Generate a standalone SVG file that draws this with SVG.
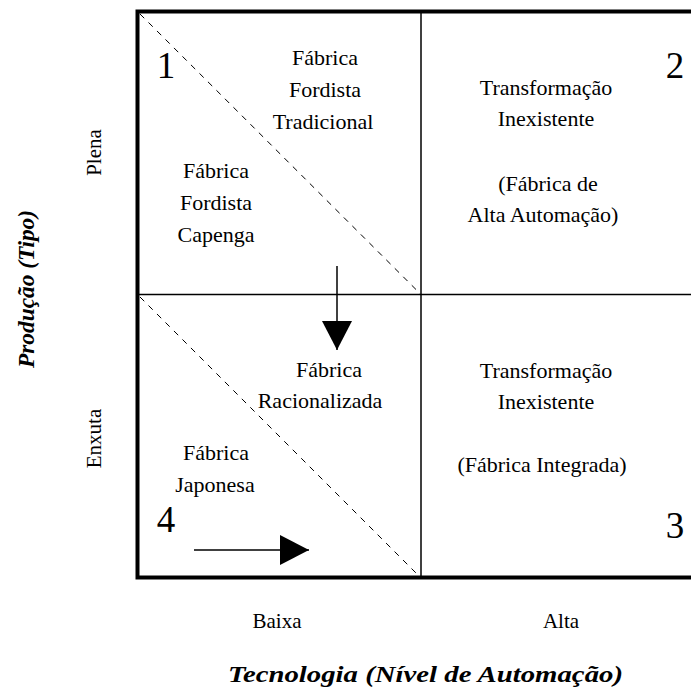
<svg xmlns="http://www.w3.org/2000/svg" width="691" height="691" viewBox="0 0 691 691" font-family="'Liberation Serif', 'Times New Roman', 'DejaVu Serif', serif">
<style>
.t,.n,.ax,.ti{font-family:'Liberation Serif','Times New Roman','DejaVu Serif',serif;fill:#000}
.t{font-size:22px;text-anchor:middle}
.n{font-size:37px;text-anchor:middle}
.ax{font-size:21px;text-anchor:middle}
.ti{font-size:24px;font-weight:bold;font-style:italic;text-anchor:middle}
.grid{stroke:#000;stroke-width:1.5;fill:none}
.dash{stroke:#000;stroke-width:1;stroke-dasharray:6,6;fill:none}
.arr{stroke:#000;stroke-width:1.5;fill:none;marker-end:url(#ah)}
</style>
<defs>
<marker id="ah" markerUnits="userSpaceOnUse" markerWidth="30" markerHeight="30" viewBox="0 0 29 30" refX="29" refY="15" orient="auto">
<path d="M0,0 L29,15 L0,30 Z" fill="#000"/>
</marker>
</defs>
<rect width="691" height="691" fill="#fff"/>
<g id="frame">
<rect x="137.5" y="11.5" width="570" height="566" fill="none" stroke="#000" stroke-width="4"/>
<line class="grid" x1="421" y1="11" x2="421" y2="578"/>
<line class="grid" x1="137" y1="294.5" x2="691" y2="294.5"/>
<line class="dash" x1="140" y1="14" x2="421" y2="294.5"/>
<line class="dash" x1="140" y1="297" x2="421" y2="578"/>
</g>
<g id="q1">
<text class="n" x="166" y="78">1</text>
<text class="t" x="325" y="65">Fábrica</text>
<text class="t" x="325" y="97">Fordista</text>
<text class="t" x="323" y="129">Tradicional</text>
</g>
<g id="q1b">
<text class="t" x="216" y="178">Fábrica</text>
<text class="t" x="216" y="210">Fordista</text>
<text class="t" x="216" y="242">Capenga</text>
</g>
<g id="q2">
<text class="n" x="675" y="78">2</text>
<text class="t" x="546" y="95">Transformação</text>
<text class="t" x="546" y="126">Inexistente</text>
<text class="t" x="548" y="191">(Fábrica de</text>
<text class="t" x="543" y="222">Alta Automação)</text>
</g>
<g id="q3">
<text class="n" x="675" y="538">3</text>
<text class="t" x="546" y="378">Transformação</text>
<text class="t" x="546" y="409">Inexistente</text>
<text class="t" x="542" y="472">(Fábrica Integrada)</text>
</g>
<g id="q4a">
<text class="t" x="329" y="377">Fábrica</text>
<text class="t" x="320" y="408">Racionalizada</text>
</g>
<g id="q4">
<text class="n" x="166" y="532">4</text>
<text class="t" x="216" y="460">Fábrica</text>
<text class="t" x="215" y="492">Japonesa</text>
</g>
<g id="connectors">
<line class="arr" x1="337" y1="266" x2="337" y2="350"/>
<line class="arr" x1="194" y1="550" x2="309" y2="550"/>
</g>
<g id="axes">
<text class="ax" transform="translate(101,152.5) rotate(-90)">Plena</text>
<text class="ax" transform="translate(101,438.5) rotate(-90)">Enxuta</text>
<text class="ti" transform="translate(34,289) rotate(-90)" textLength="158" lengthAdjust="spacingAndGlyphs">Produção (Tipo)</text>
<text class="ax" x="277" y="628">Baixa</text>
<text class="ax" x="561" y="628">Alta</text>
<text class="ti" x="425.5" y="682" textLength="395" lengthAdjust="spacingAndGlyphs">Tecnologia (Nível de Automação)</text>
</g>
</svg>
